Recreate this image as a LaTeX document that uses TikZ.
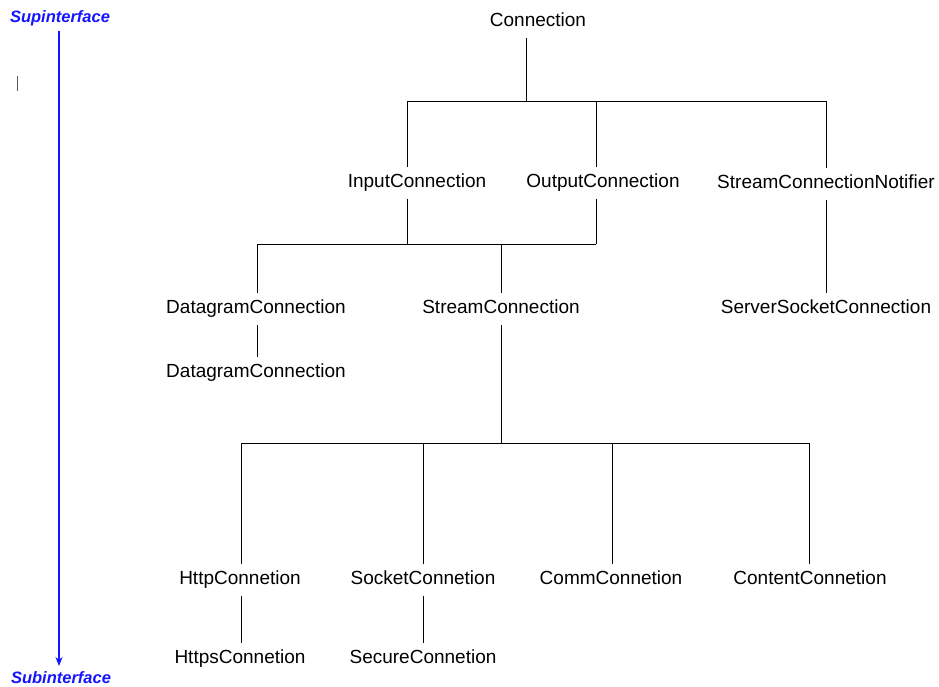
\documentclass[tikz,border=0pt]{standalone}
\usepackage{fontspec}
\setmainfont{Liberation Sans}
\usetikzlibrary{arrows.meta}
\definecolor{axisblue}{RGB}{20,20,255}
\tikzset{
  cls/.style={font=\fontsize{19}{22}\selectfont, inner xsep=0pt, inner ysep=7pt,
              text height=13.5pt, text depth=4pt},
  edge/.style={draw=black, line width=0.8pt},
  axislabel/.style={font=\fontsize{16.5}{19}\selectfont\bfseries\itshape, text=axisblue, inner sep=0pt},
}
\begin{document}
\begin{tikzpicture}[x=1pt,y=-1pt]
\useasboundingbox (0,0) rectangle (939,686);
\fill[white] (0,0) rectangle (939,686);

% direction axis
\node[axislabel] (sup) at (60,18) {Supinterface};
\node[axislabel] (sub) at (61,678) {Subinterface};
\draw[axisblue, line width=1.8pt, -{Stealth[length=9pt,width=7pt]}] (sup.south -| 59,0) ++(0,5) -- (59,666) coordinate (axend);
\draw[gray!70!black, line width=0.8pt] (17,76) -- (17,91);

% class nodes
\node[cls] (conn) at (538,22) {Connection};
\node[cls] (in)   at (417,183) {InputConnection};
\node[cls] (out)  at (603,183) {OutputConnection};
\node[cls] (scn)  at (826,184) {StreamConnectionNotifier};
\node[cls] (dg)   at (256,309) {DatagramConnection};
\node[cls] (sc)   at (501,309) {StreamConnection};
\node[cls] (ssc)  at (826,309) {ServerSocketConnection};
\node[cls] (dg2)  at (256,373) {DatagramConnection};
\node[cls] (http) at (240,580) {HttpConnetion};
\node[cls] (sock) at (423,580) {SocketConnetion};
\node[cls] (comm) at (611,580) {CommConnetion};
\node[cls] (cont) at (810,580) {ContentConnetion};
\node[cls] (https) at (240,659) {HttpsConnetion};
\node[cls] (sec)  at (423,659) {SecureConnetion};

% bus junctions
\coordinate (j0)  at (526,101);
\coordinate (j0a) at (407,101);
\coordinate (j0b) at (596,101);
\coordinate (j0c) at (826,101);
\coordinate (j1a) at (257,244);
\coordinate (j1b) at (407,244);
\coordinate (j1c) at (501,244);
\coordinate (j1d) at (596,244);
\coordinate (j2)  at (501,443);
\coordinate (j2a) at (241,443);
\coordinate (j2b) at (423,443);
\coordinate (j2c) at (612,443);
\coordinate (j2d) at (809,443);

% Connection -> Input/Output/StreamConnectionNotifier
\draw[edge] (conn.south -| j0) -- (j0);
\draw[edge] (j0a) -- (j0c);
\draw[edge] (in.north -| j0a) -- (j0a);
\draw[edge] (out.north -| j0b) -- (j0b);
\draw[edge] (scn.north -| j0c) -- (j0c);

% Input/Output -> Datagram/Stream
\draw[edge] (in.south -| j1b) -- (j1b);
\draw[edge] (out.south -| j1d) -- (j1d);
\draw[edge] (j1a) -- (j1d);
\draw[edge] (dg.north -| j1a) -- (j1a);
\draw[edge] (sc.north -| j1c) -- (j1c);

% StreamConnectionNotifier -> ServerSocketConnection
\draw[edge] (scn.south -| j0c) -- (ssc.north -| j0c);

% DatagramConnection -> DatagramConnection
\draw[edge] (dg.south -| j1a) -- (dg2.north -| j1a);

% StreamConnection -> bottom row
\draw[edge] (sc.south -| j2) -- (j2);
\draw[edge] (j2a) -- (j2d);
\draw[edge] (http.north -| j2a) -- (j2a);
\draw[edge] (sock.north -| j2b) -- (j2b);
\draw[edge] (comm.north -| j2c) -- (j2c);
\draw[edge] (cont.north -| j2d) -- (j2d);

% leaf sub-interfaces
\draw[edge] (http.south -| j2a) -- (https.north -| j2a);
\draw[edge] (sock.south -| j2b) -- (sec.north -| j2b);
\end{tikzpicture}
\end{document}
